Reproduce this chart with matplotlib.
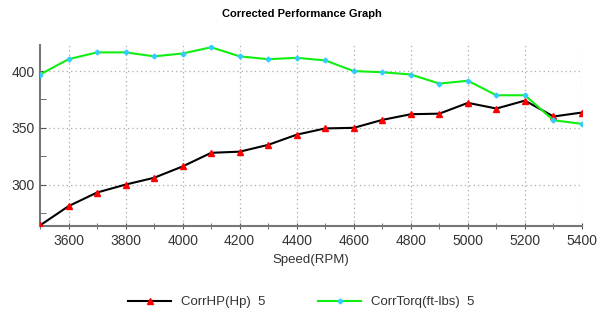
import matplotlib.pyplot as plt
from matplotlib.ticker import MultipleLocator

plt.rcParams["font.family"] = ["Liberation Sans", "DejaVu Sans"]

rpm = [3500, 3600, 3700, 3800, 3900, 4000, 4100, 4200, 4300, 4400,
       4500, 4600, 4700, 4800, 4900, 5000, 5100, 5200, 5300, 5400]
corr_hp = [264, 281, 293, 300, 306, 316, 328, 329, 335, 344,
           349.5, 350, 357, 362, 362.5, 372, 367, 374, 360, 363.5]
corr_torq = [397, 410.5, 416.5, 416.5, 413, 415.5, 421, 413, 410.5, 411.7,
             409.4, 400, 399, 397, 389, 391.5, 378.7, 378.7, 356.7, 353.5]

fig = plt.figure(figsize=(6.03, 3.14), dpi=100)
ax = fig.add_axes([40 / 603, 1 - 226 / 314, 542 / 603, 181 / 314])

ax.plot(rpm, corr_hp, color="#000000", lw=1.5, marker="^", ms=4,
        mfc="#ff0000", mec="#ff0000", label="CorrHP(Hp)  5", zorder=3)
ax.plot(rpm, corr_torq, color="#11ee11", lw=1.5, marker="D", ms=2.5,
        mfc="#33ccff", mec="#33ccff", label="CorrTorq(ft-lbs)  5", zorder=3)

ax.set_xlim(3500, 5400)
ax.set_ylim(263.5, 423)
ax.xaxis.set_minor_locator(MultipleLocator(100))
ax.yaxis.set_major_locator(MultipleLocator(50))
ax.yaxis.set_minor_locator(MultipleLocator(25))
ax.set_xticks([3600, 3800, 4000, 4200, 4400, 4600, 4800, 5000, 5200, 5400])
ax.grid(True, which="major", color="#aaaaaa", ls=(0, (1, 2.5)), lw=0.9)

for s in ("top", "right"):
    ax.spines[s].set_visible(False)
for s in ("left", "bottom"):
    ax.spines[s].set_color("#777777")
    ax.spines[s].set_linewidth(1.5)
ax.tick_params(which="both", direction="in", color="#555555", length=4,
               labelsize=10, labelcolor="#333333")
ax.tick_params(axis="x", which="both", direction="inout", length=5)

ax.set_xlabel("Speed(RPM)", fontsize=9.5, color="#333333", labelpad=4)
fig.text(0.5, 1 - 14 / 314, "Corrected Performance Graph", ha="center",
         va="center", fontsize=8, fontweight="bold")

fig.legend(loc="center", bbox_to_anchor=(0.5, 1 - 302 / 314), ncol=2,
           frameon=False, fontsize=9.5, handlelength=3.2, columnspacing=4,
           labelcolor="#333333")

fig.savefig("out.png", dpi=100)
